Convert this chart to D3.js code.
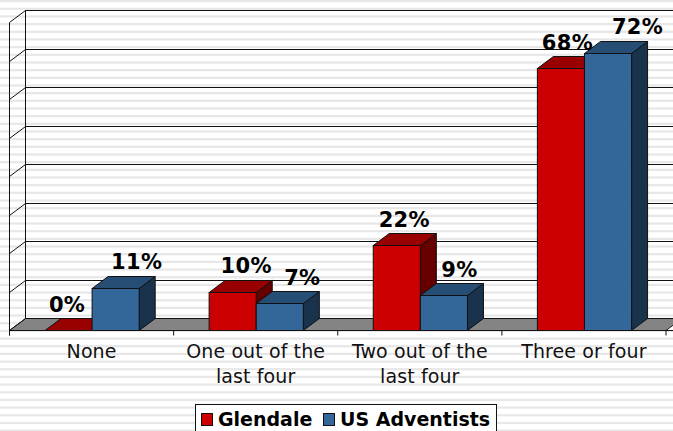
<!DOCTYPE html>
<html>
<head>
<meta charset="UTF-8">
<title>Chart</title>
<script src="https://cdnjs.cloudflare.com/ajax/libs/d3/7.8.5/d3.min.js"></script>
<style>
    html, body { margin: 0; padding: 0; background: #fff; overflow: hidden; }
    text { font-family: "DejaVu Sans", sans-serif; }
</style>
</head>
<body>
<svg id="chart" width="673" height="431"></svg>
<script>
const categories = [["None"], ["One out of the", "last four"], ["Two out of the", "last four"], ["Three or four"]];
const seriesNames = ["Glendale", "US Adventists"];
const glendale = [0, 10, 22, 68];
const adventists = [11, 7, 9, 72];
const yTicks = [0, 10, 20, 30, 40, 50, 60, 70, 80];

const svg = d3.select("#chart");

// Фон в полоску
svg.append("rect").attr("width", 673).attr("height", 431).attr("fill", "#fff");
svg.append("g").selectAll("rect")
    .data(d3.range(0, 431, 7.67))
    .join("rect")
    .attr("x", 0).attr("y", d => d).attr("width", 673).attr("height", 2.2)
    .attr("fill", "#e7e7e7");

const dx = 16, dy = -12;
const x = d3.scaleBand().domain(d3.range(categories.length)).range([9.5, 666]);
const y = d3.scaleLinear().domain([0, 80]).range([330.5, 22.5]);
const inner = d3.scaleBand().domain([0, 1]).range([35.5, 129.7]);
const crisp = v => Math.round(v - 0.5) + 0.5;

// Стенки и пол
const left = x.range()[0], right = x.range()[1];
svg.append("path")
    .attr("d", `M${left},${y(0)} L${left + dx},${y(0) + dy} L${right + dx},${y(0) + dy} L${right},${y(0)} Z`)
    .attr("fill", "#848484").attr("stroke", "#222").attr("stroke-width", 1);

const grid = svg.append("g").attr("fill", "none").attr("stroke", "#111");
yTicks.forEach(t => {
    const gy = crisp(y(t));
    grid.append("path")
        .attr("d", `M${left},${gy} L${left + dx},${gy + dy} L${right + dx + 10},${gy + dy}`);
});
grid.append("line").attr("x1", left).attr("x2", left).attr("y1", y(80)).attr("y2", y(0) + 5);
grid.append("line").attr("x1", left + dx).attr("x2", left + dx).attr("y1", y(80) + dy).attr("y2", y(0) + dy);

// Ось X
svg.append("line").attr("x1", left).attr("x2", 673).attr("y1", y(0)).attr("y2", y(0)).attr("stroke", "#111");
d3.range(categories.length + 1).forEach(i => {
    const tx = left + i * x.step();
    svg.append("line").attr("x1", tx).attr("x2", tx).attr("y1", y(0)).attr("y2", y(0) + 5).attr("stroke", "#111");
});

const colors = [
    { front: "#cc0000", top: "#990000", side: "#660000" },
    { front: "#336699", top: "#264d73", side: "#1a334d" }
];

const bar3d = (g, bx, w, v, c) => {
    const top = crisp(y(v)), base = y(0);
    g.append("path")
        .attr("d", `M${bx + w},${base} L${bx + w + dx},${base + dy} L${bx + w + dx},${top + dy} L${bx + w},${top} Z`)
        .attr("fill", c.side).attr("stroke", "#111");
    g.append("path")
        .attr("d", `M${bx},${top} L${bx + dx},${top + dy} L${bx + w + dx},${top + dy} L${bx + w},${top} Z`)
        .attr("fill", c.top).attr("stroke", "#111");
    g.append("rect")
        .attr("x", bx).attr("y", top).attr("width", w).attr("height", base - top)
        .attr("fill", c.front).attr("stroke", "#111");
};

const bars = svg.append("g");
categories.forEach((c, i) => {
    [glendale, adventists].forEach((vals, s) => {
        bar3d(bars, x(i) + inner(s), inner.bandwidth(), vals[i], colors[s]);
    });
});

// Подписи значений, сдвиг от центра столбика подобран вручную
const labelShift = [[-1.5, 21], [13.5, 22.5], [7.5, 15.5], [6.5, 29.5]];
const labels = svg.append("g").attr("font-weight", "bold").attr("font-size", 21)
    .attr("letter-spacing", 0.3).attr("text-anchor", "middle").attr("fill", "#000");
categories.forEach((c, i) => {
    [glendale, adventists].forEach((vals, s) => {
        labels.append("text")
            .attr("x", x(i) + inner(s) + inner.bandwidth() / 2 + labelShift[i][s])
            .attr("y", y(vals[i]) + dy - 7)
            .text(vals[i] + "%");
    });
});

// Подписи категорий
categories.forEach((c, i) => {
    c.forEach((line, k) => {
        svg.append("text")
            .attr("x", x(i) + x.bandwidth() / 2)
            .attr("y", 358 + k * 25)
            .attr("text-anchor", "middle").attr("font-size", 19)
            .attr("letter-spacing", 0.1).attr("fill", "#111")
            .text(line);
    });
});

// Легенда
const legend = svg.append("g");
legend.append("rect").attr("x", 195.5).attr("y", 404.5).attr("width", 301).attr("height", 40)
    .attr("fill", "#fff").attr("stroke", "#111");
[[201.5, 218], [323.5, 340]].forEach((p, i) => {
    legend.append("rect").attr("x", p[0]).attr("y", 413.5).attr("width", 11).attr("height", 12)
        .attr("fill", colors[i].front).attr("stroke", "#111");
    legend.append("text").attr("x", p[1]).attr("y", 425.5)
        .attr("font-weight", "bold").attr("font-size", 19).attr("fill", "#000")
        .text(seriesNames[i]);
});
</script>
</body>
</html>
